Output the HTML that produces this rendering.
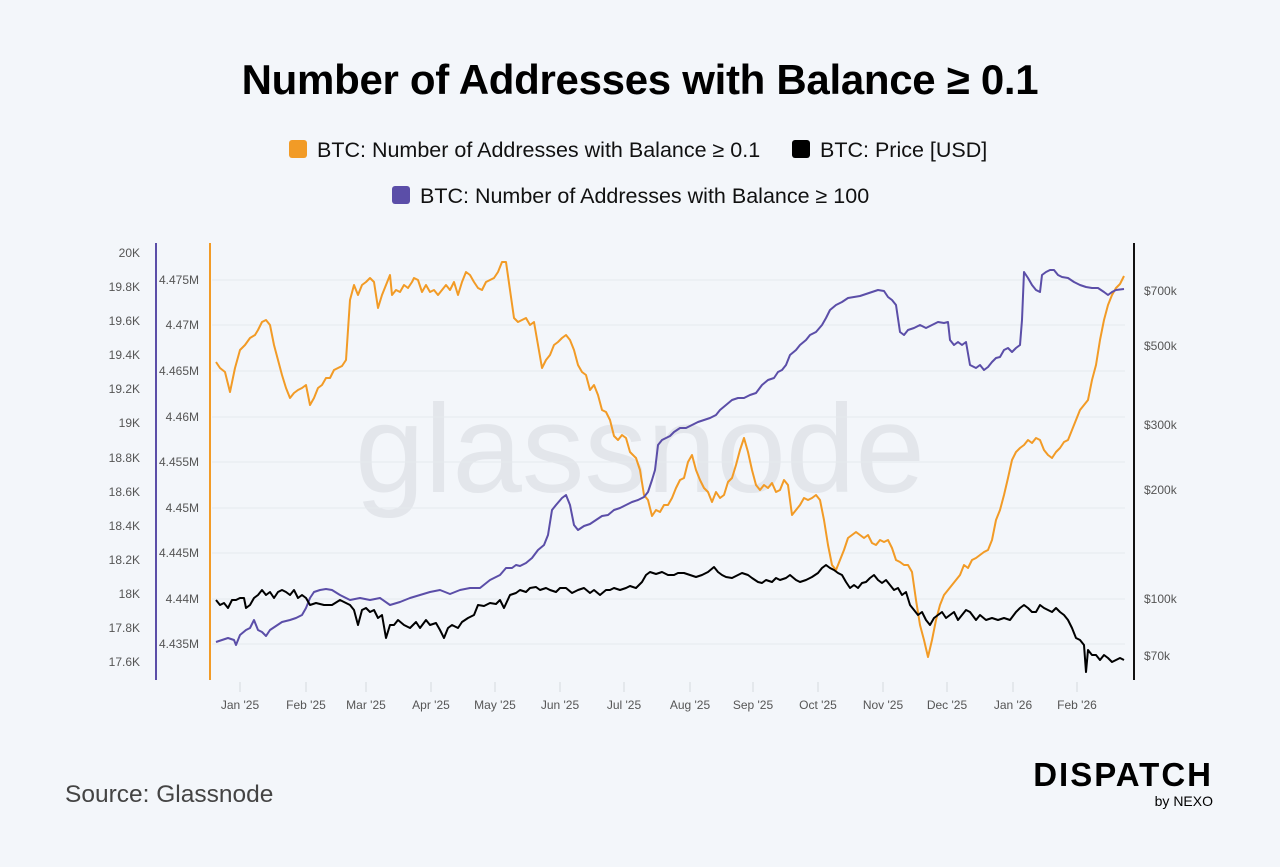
<!DOCTYPE html>
<html><head><style>
body{margin:0;background:#f3f6fa;font-family:"Liberation Sans",sans-serif;}
</style></head><body>
<svg width="1280" height="867" xmlns="http://www.w3.org/2000/svg" style="display:block">
<rect width="1280" height="867" fill="#f3f6fa"/>
<text x="640" y="94" text-anchor="middle" font-size="42" font-weight="bold" fill="#000" letter-spacing="-0.3">Number of Addresses with Balance ≥ 0.1</text>
<rect x="289" y="140" width="18" height="18" rx="3" fill="#f29b26"/>
<text x="317" y="157" font-size="21.5" fill="#111">BTC: Number of Addresses with Balance ≥ 0.1</text>
<rect x="792" y="140" width="18" height="18" rx="3" fill="#000"/>
<text x="820" y="157" font-size="21.5" fill="#111">BTC: Price [USD]</text>
<rect x="392" y="186" width="18" height="18" rx="3" fill="#5b4ea8"/>
<text x="420" y="203" font-size="21.5" fill="#111">BTC: Number of Addresses with Balance ≥ 100</text>
<text x="640" y="492" text-anchor="middle" font-size="125" fill="#e3e6eb">glassnode</text>
<g stroke="#e6e9ee" stroke-width="1">
<line x1="212" x2="1125" y1="280" y2="280"/><line x1="212" x2="1125" y1="325" y2="325"/><line x1="212" x2="1125" y1="371" y2="371"/><line x1="212" x2="1125" y1="417" y2="417"/><line x1="212" x2="1125" y1="462" y2="462"/><line x1="212" x2="1125" y1="508" y2="508"/><line x1="212" x2="1125" y1="553" y2="553"/><line x1="212" x2="1125" y1="599" y2="599"/><line x1="212" x2="1125" y1="644" y2="644"/>
</g>
<line x1="156" x2="156" y1="243" y2="680" stroke="#5b4ea8" stroke-width="2"/>
<line x1="210" x2="210" y1="243" y2="680" stroke="#f29b26" stroke-width="2"/>
<line x1="1134" x2="1134" y1="243" y2="680" stroke="#111" stroke-width="2"/>
<g stroke="#d5d9df" stroke-width="1"><line x1="240" x2="240" y1="682" y2="692"/><line x1="306" x2="306" y1="682" y2="692"/><line x1="366" x2="366" y1="682" y2="692"/><line x1="431" x2="431" y1="682" y2="692"/><line x1="495" x2="495" y1="682" y2="692"/><line x1="560" x2="560" y1="682" y2="692"/><line x1="624" x2="624" y1="682" y2="692"/><line x1="690" x2="690" y1="682" y2="692"/><line x1="753" x2="753" y1="682" y2="692"/><line x1="818" x2="818" y1="682" y2="692"/><line x1="883" x2="883" y1="682" y2="692"/><line x1="947" x2="947" y1="682" y2="692"/><line x1="1013" x2="1013" y1="682" y2="692"/><line x1="1077" x2="1077" y1="682" y2="692"/></g>
<g font-size="12" fill="#555" text-anchor="end">
<text x="140" y="257">20K</text><text x="140" y="291">19.8K</text><text x="140" y="325">19.6K</text><text x="140" y="359">19.4K</text><text x="140" y="393">19.2K</text><text x="140" y="427">19K</text><text x="140" y="462">18.8K</text><text x="140" y="496">18.6K</text><text x="140" y="530">18.4K</text><text x="140" y="564">18.2K</text><text x="140" y="598">18K</text><text x="140" y="632">17.8K</text><text x="140" y="666">17.6K</text>
<text x="199" y="284">4.475M</text><text x="199" y="329">4.47M</text><text x="199" y="375">4.465M</text><text x="199" y="421">4.46M</text><text x="199" y="466">4.455M</text><text x="199" y="512">4.45M</text><text x="199" y="557">4.445M</text><text x="199" y="603">4.44M</text><text x="199" y="648">4.435M</text>
</g>
<g font-size="12" fill="#555">
<text x="1144" y="295">$700k</text><text x="1144" y="350">$500k</text><text x="1144" y="429">$300k</text><text x="1144" y="494">$200k</text><text x="1144" y="603">$100k</text><text x="1144" y="660">$70k</text>
</g>
<g font-size="12" fill="#555" text-anchor="middle">
<text x="240" y="709">Jan '25</text><text x="306" y="709">Feb '25</text><text x="366" y="709">Mar '25</text><text x="431" y="709">Apr '25</text><text x="495" y="709">May '25</text><text x="560" y="709">Jun '25</text><text x="624" y="709">Jul '25</text><text x="690" y="709">Aug '25</text><text x="753" y="709">Sep '25</text><text x="818" y="709">Oct '25</text><text x="883" y="709">Nov '25</text><text x="947" y="709">Dec '25</text><text x="1013" y="709">Jan '26</text><text x="1077" y="709">Feb '26</text>
</g>
<g fill="none" stroke-width="2" stroke-linejoin="round">
<polyline stroke="#f29b26" points="216,362 220,368 225,372 230,392 235,368 240,350 245,345 250,338 255,335 258,330 262,322 266,320 270,325 274,345 278,360 282,375 286,388 290,398 294,393 298,390 302,388 306,385 310,405 314,398 318,388 322,385 326,378 330,378 334,370 338,368 342,366 346,360 348,330 350,300 354,285 358,295 362,285 366,282 370,278 374,282 378,308 382,295 386,285 390,275 392,295 396,290 400,292 404,285 408,288 412,282 414,278 418,280 422,292 426,285 430,292 434,290 438,295 442,290 446,285 450,290 454,282 458,295 462,282 466,272 470,275 474,282 478,288 482,290 486,282 490,280 494,278 498,272 502,262 506,262 510,290 514,318 518,322 522,320 526,318 530,325 534,322 538,345 542,368 546,360 550,355 554,345 558,342 562,338 566,335 570,340 574,350 578,365 582,372 586,375 590,390 594,385 598,395 602,410 606,412 610,420 614,436 618,440 622,435 626,438 630,452 636,458 640,470 644,495 648,500 652,516 656,510 660,512 664,505 668,505 672,498 676,488 680,480 684,478 688,462 692,455 696,470 700,480 704,488 708,492 712,502 716,492 720,498 724,495 728,482 732,478 736,465 740,450 744,438 748,452 752,470 756,485 760,490 764,485 768,488 772,483 776,492 780,490 784,480 788,485 792,515 796,510 800,505 804,498 808,500 812,498 816,495 820,500 824,520 828,545 832,565 836,570 840,560 844,550 848,538 852,535 856,532 860,535 864,538 868,535 872,543 876,545 880,540 884,542 888,540 892,548 896,560 900,562 904,565 908,565 912,572 916,600 920,625 924,640 928,657 932,640 936,620 940,605 944,595 948,590 952,585 956,580 960,575 964,565 968,568 972,560 976,558 980,555 984,552 988,550 992,540 996,520 1000,510 1004,495 1008,478 1012,460 1016,452 1020,448 1024,445 1028,440 1032,443 1036,438 1040,440 1044,450 1048,455 1052,458 1056,452 1060,448 1064,442 1068,440 1072,430 1076,420 1080,410 1084,405 1088,400 1092,380 1096,365 1100,340 1104,320 1108,305 1112,295 1116,288 1120,284 1124,276"/>
<polyline stroke="#5b4ea8" points="216,642 222,640 228,638 234,640 236,645 240,635 246,630 250,628 254,620 258,630 262,632 266,636 270,630 276,626 282,622 290,620 296,618 302,615 306,608 310,598 314,592 320,590 326,589 332,590 340,595 350,600 360,598 370,600 380,598 390,605 400,602 410,598 420,595 430,592 440,590 450,594 460,590 470,588 480,588 490,580 500,575 506,568 512,568 516,565 520,566 526,563 532,558 538,550 544,545 548,535 552,510 556,505 562,498 566,495 570,505 574,525 578,530 584,526 590,524 596,520 602,516 608,515 614,510 620,508 626,505 632,502 638,500 644,497 648,492 652,480 655,470 658,445 662,440 666,438 670,436 674,432 680,428 686,428 692,425 698,422 704,420 710,418 716,415 720,410 726,405 732,400 738,398 744,398 750,395 756,393 762,385 768,380 774,378 778,372 782,370 786,365 790,355 796,350 800,345 806,340 810,335 816,332 822,325 826,318 830,310 836,305 842,302 848,298 854,297 860,296 866,294 872,292 878,290 884,291 888,297 892,300 896,305 900,332 904,335 908,330 914,328 920,325 926,328 932,325 938,322 944,323 948,322 950,340 954,345 958,342 962,345 966,342 970,365 976,368 980,365 984,370 988,367 992,362 996,358 1000,357 1004,350 1008,348 1012,352 1016,348 1020,345 1022,320 1024,272 1028,278 1032,285 1036,290 1040,292 1042,275 1046,272 1050,270 1054,270 1058,275 1062,277 1068,278 1074,282 1080,285 1086,287 1092,288 1098,288 1104,292 1108,295 1112,292 1116,290 1124,289"/>
<polyline stroke="#000" points="216,600 220,605 224,603 228,608 232,600 236,600 240,598 244,598 246,608 250,605 254,598 258,595 262,590 266,595 270,592 274,598 278,592 282,590 286,592 290,595 294,590 298,598 302,595 306,598 310,605 316,603 324,605 332,605 340,600 346,603 350,605 354,610 358,625 362,610 366,608 370,612 374,610 378,618 382,615 386,638 390,625 394,625 398,620 404,625 410,628 416,622 420,628 426,620 430,625 436,623 440,630 444,638 448,628 452,625 458,628 462,622 468,618 474,615 478,605 484,606 490,603 496,604 500,600 504,608 510,595 516,593 520,590 526,592 530,588 536,587 540,590 546,588 550,590 556,592 560,588 566,588 572,593 578,590 584,588 590,593 594,590 600,595 606,590 610,590 614,588 620,590 626,588 630,586 636,588 642,582 646,575 650,572 656,574 662,572 668,575 674,575 678,573 684,573 690,575 696,577 702,575 708,572 714,567 718,572 722,575 726,577 732,578 738,575 742,573 748,575 752,578 758,582 762,583 766,580 772,582 776,578 780,580 786,578 790,575 796,580 800,582 806,580 812,577 818,573 822,568 826,565 830,568 834,570 838,573 842,575 846,582 850,588 854,585 858,588 862,583 866,582 870,578 874,575 878,580 882,583 886,580 890,585 894,590 898,588 902,595 906,592 910,605 914,610 918,615 922,612 926,620 930,625 934,618 938,615 942,612 946,618 950,615 954,612 958,620 962,615 966,610 970,612 976,620 980,615 986,620 992,618 998,620 1004,618 1010,620 1016,612 1020,608 1024,605 1028,608 1032,612 1036,612 1040,605 1044,608 1048,610 1052,612 1056,608 1060,612 1064,615 1068,620 1072,628 1076,638 1080,640 1084,645 1086,672 1088,650 1092,655 1096,655 1100,660 1104,655 1108,658 1112,662 1116,660 1120,658 1124,660"/>
</g>
<text x="65" y="802" font-size="24.5" fill="#444">Source: Glassnode</text>
<text x="1213" y="786" text-anchor="end" font-size="33" font-weight="bold" fill="#000" letter-spacing="2">DISPATCH</text>
<text x="1213" y="806" text-anchor="end" font-size="14" fill="#000">by NEXO</text>
</svg>
</body></html>
